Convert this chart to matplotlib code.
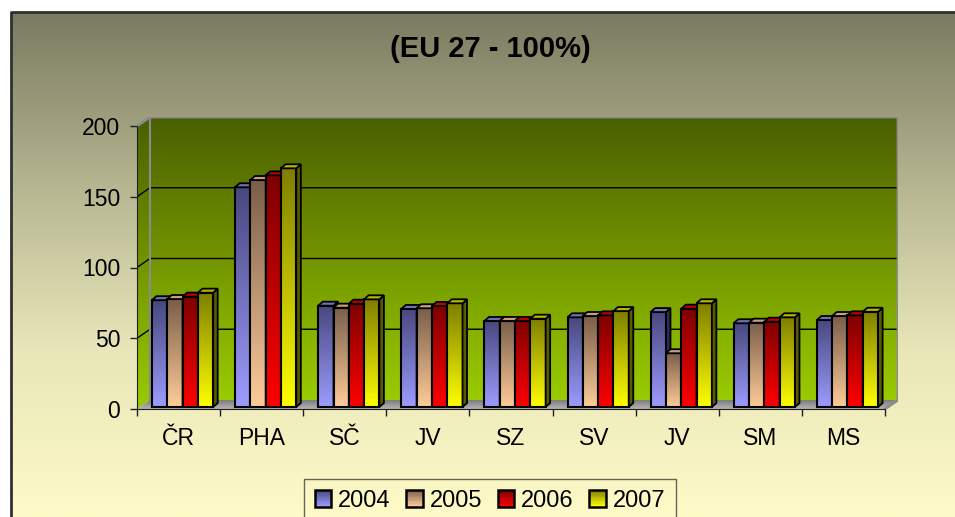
import numpy as np
import matplotlib
matplotlib.use("Agg")
import matplotlib.pyplot as plt
from matplotlib.colors import LinearSegmentedColormap
from matplotlib.patches import Polygon, Patch, Rectangle
from matplotlib.legend_handler import HandlerBase

plt.rcParams["font.family"] = ["Liberation Sans", "DejaVu Sans"]

# data (% of EU 27)
regions = ["ČR", "PHA", "SČ", "JV", "SZ", "SV", "JV", "SM", "MS"]
years = ["2004", "2005", "2006", "2007"]
v2004 = [75.5, 155.3, 71.6, 69.3, 60.8, 63.4, 67.1, 59.2, 61.5]
v2005 = [76.3, 160.4, 70.2, 69.8, 60.8, 64.3, 38.0, 59.6, 64.3]
v2006 = [78.0, 163.7, 73.0, 71.4, 60.8, 64.8, 69.5, 60.3, 64.8]
v2007 = [80.8, 168.7, 76.1, 73.3, 62.4, 67.8, 73.3, 63.4, 67.3]
yticks = [0, 50, 100, 150, 200]
title = "(EU 27 - 100%)"

series = [v2004, v2005, v2006, v2007]
# dark top, light bottom, side face, top face
bar_colors = [
    ("#48487e", "#9c9cff", "#2c2c5c", "#7070b8"),
    ("#7a5e4a", "#ffcc99", "#5a4030", "#c8a080"),
    ("#7e0000", "#ff0000", "#580000", "#c00000"),
    ("#7e7e00", "#ffff00", "#5a5a00", "#b8b800"),
]

W, H = 955, 517
PX = 748 / 9.0      # pixels per category
PY = 283 / 200.0    # pixels per value unit
dxw, dyw = 13 / PX, 9 / PY      # wall depth
dxb, dyb = 4.5 / PX, 4 / PY     # bar depth
bw = 15.3 / PX
goff = 15 / PX
by = 2 / PY


def grad(ax, extent, c_top, c_bot, z, clip=None):
    cmap = LinearSegmentedColormap.from_list("g", [c_bot, c_top])
    g = np.linspace(0, 1, 256).reshape(-1, 1)
    im = ax.imshow(g, extent=extent, origin="lower", cmap=cmap, aspect="auto",
                   interpolation="bilinear", zorder=z)
    if clip is not None:
        im.set_clip_path(clip)
    return im


class GradHandler(HandlerBase):
    # legend square with the same top-dark / bottom-light gradient as the bars
    def create_artists(self, legend, orig_handle, xdescent, ydescent, width, height,
                       fontsize, trans):
        c_top, c_bot = orig_handle.c_top, orig_handle.c_bot
        cmap = LinearSegmentedColormap.from_list("h", [c_bot, c_top])
        n = 12
        arts = []
        for k in range(n):
            arts.append(Rectangle((-xdescent, -ydescent + height * k / n), width, height / n + 0.3,
                                  facecolor=cmap((k + 0.5) / n), edgecolor="none", transform=trans))
        arts.append(Rectangle((-xdescent, -ydescent), width, height, facecolor="none",
                              edgecolor="black", lw=1.8, transform=trans))
        return arts


fig = plt.figure(figsize=(W / 100, H / 100), dpi=100)
fig.patch.set_facecolor("white")

# background of the chart area
bg = fig.add_axes([0, 0, 1, 1])
bg.set_axis_off()
cmap_bg = LinearSegmentedColormap.from_list("bg", ["#7a7a60", "#b4b490", "#e8e6b8", "#fffbc8"])
bg.imshow(np.linspace(0, 1, 256).reshape(-1, 1), extent=[11, W, H, 12], cmap=cmap_bg,
          aspect="auto", interpolation="bilinear")
bg.plot([11, 11, W], [H, 12, 12], color="#303030", lw=2, solid_capstyle="butt")
bg.set_xlim(0, W)
bg.set_ylim(H, 0)
bg.text(490, 49, title, ha="center", va="center", fontsize=21, fontweight="bold")

# plot area: left wall at x=137, back wall to x=898, zero at y=409, top at y=117
ax = fig.add_axes([137 / W, (H - 409) / H, 761 / W, 292 / H])
ax.patch.set_visible(False)

xl, xr = -0.5, len(regions) - 0.5
top = yticks[-1]

# back wall
grad(ax, [xl + dxw, xr + dxw, dyw, top + dyw], "#4a5f00", "#9acb00", 0.5)
# left wall
lw_poly = Polygon([(xl, 0), (xl + dxw, dyw), (xl + dxw, top + dyw), (xl, top)],
                  closed=True, transform=ax.transData)
grad(ax, [xl, xl + dxw, 0, top + dyw], "#4a5f00", "#9acb00", 0.6, clip=lw_poly)
# floor
fl_poly = Polygon([(xl, 0), (xr, 0), (xr + dxw, dyw), (xl + dxw, dyw)],
                  closed=True, transform=ax.transData)
grad(ax, [xl, xr + dxw, 0, dyw], "#7c7c7c", "#b4b4b4", 0.7, clip=fl_poly)

# gridlines on walls
for v in yticks[1:-1]:
    ax.plot([xl, xl + dxw, xr + dxw], [v, v + dyw, v + dyw], color="black", lw=1, zorder=1)
# wall edges
ax.plot([xl, xl + dxw, xr + dxw, xr + dxw, xr], [top, top + dyw, top + dyw, dyw, 0],
        color="#8c8c8c", lw=2, zorder=1.1)
ax.plot([xl + dxw, xl + dxw], [dyw, top + dyw], color="#8c8c8c", lw=1.5, zorder=1.1)

# bars
for i, vals in enumerate(series):
    c_top, c_bot, c_side, c_cap = bar_colors[i]
    z = 3 + i * 0.5
    for j, v in enumerate(vals):
        x0 = j - 0.5 + goff + i * bw
        x1 = x0 + bw
        t = by + v
        grad(ax, [x0, x1, by, t], c_top, c_bot, z)
        ax.bar(x0, v, width=bw, bottom=by, align="edge", facecolor="none",
               edgecolor="black", lw=1.5, zorder=z + 0.1)
        ax.add_patch(Polygon([(x1, by), (x1 + dxb, by + dyb), (x1 + dxb, t + dyb), (x1, t)],
                             closed=True, facecolor=c_side, edgecolor="black", lw=1.3, zorder=z + 0.2))
        ax.add_patch(Polygon([(x0, t), (x0 + dxb, t + dyb), (x1 + dxb, t + dyb), (x1, t)],
                             closed=True, facecolor=c_cap, edgecolor="black", lw=1.3, zorder=z + 0.2))

ax.set_xlim(xl, xr + dxw)
ax.set_ylim(0, top + dyw)

for s in ["top", "right"]:
    ax.spines[s].set_visible(False)
ax.spines["left"].set_bounds(0, top)
ax.spines["bottom"].set_bounds(xl, xr)
ax.spines["left"].set_color("#202020")
ax.spines["bottom"].set_color("#202020")
ax.spines["left"].set_zorder(6)
ax.spines["bottom"].set_zorder(6)

ax.set_yticks(yticks)
ax.set_yticklabels([str(t) for t in yticks])
ax.tick_params(axis="y", direction="out", length=5, width=1, pad=7, labelsize=16.5, color="#202020")
ax.set_xticks(np.arange(len(regions)))
ax.set_xticklabels(regions)
ax.set_xticks(np.arange(len(regions) + 1) - 0.5, minor=True)
ax.tick_params(axis="x", which="major", length=0, pad=13, labelsize=16.5)
ax.tick_params(axis="x", which="minor", direction="out", length=5, width=1, color="#202020")

handles = []
for i, y in enumerate(years):
    h = Patch(label=y)
    h.c_top, h.c_bot = bar_colors[i][0], bar_colors[i][1]
    handles.append(h)
leg = fig.legend(handles=handles, loc="upper center", bbox_to_anchor=(490 / W, 1 - 479 / H),
                 ncol=4, fontsize=17, frameon=True, fancybox=False, handlelength=0.7,
                 handleheight=0.7, handletextpad=0.3, columnspacing=0.65, borderpad=0.45,
                 borderaxespad=0, handler_map={Patch: GradHandler()})
leg.get_frame().set_facecolor("none")
leg.get_frame().set_edgecolor("#404040")
leg.get_frame().set_linewidth(1)

fig.savefig("out.png", dpi=100)
